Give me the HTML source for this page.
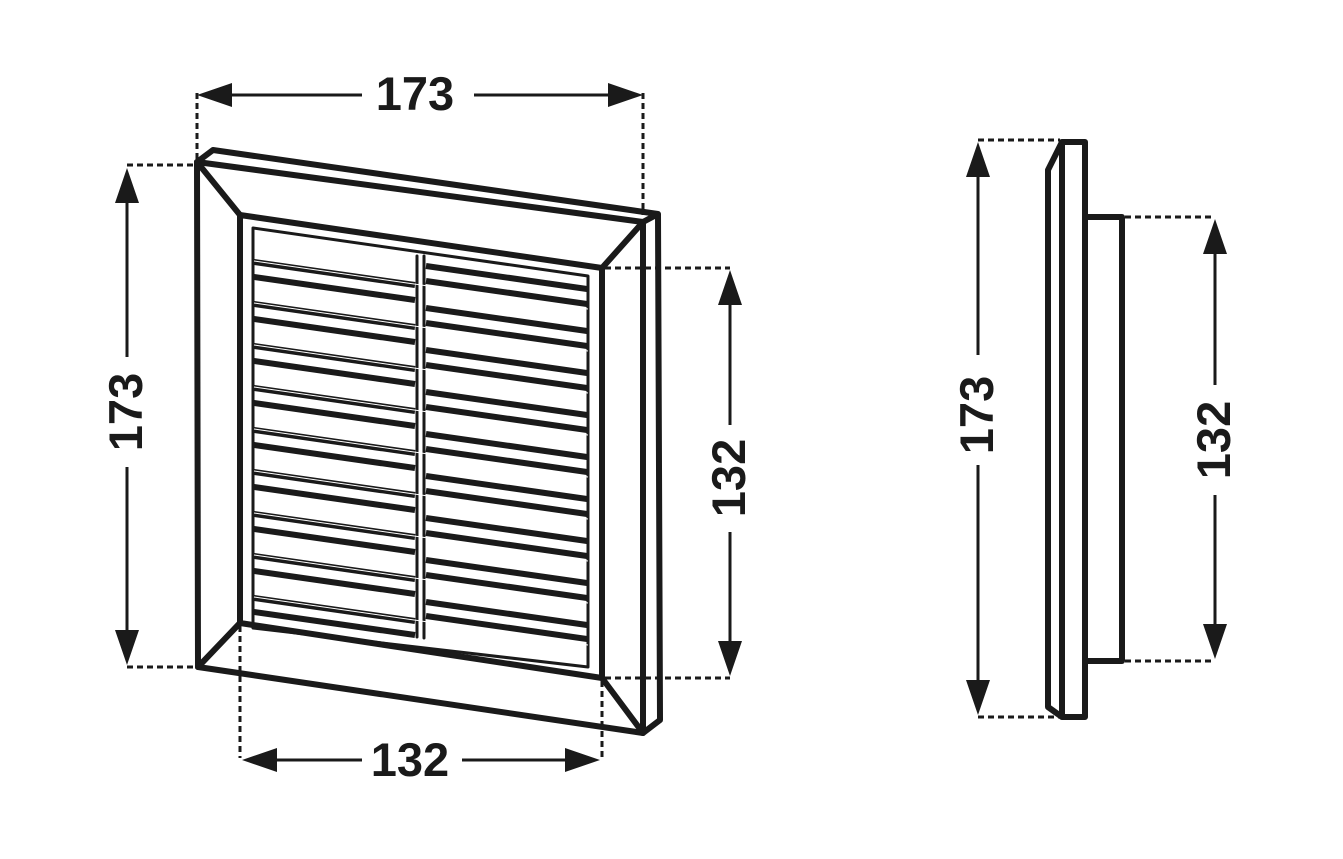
<!DOCTYPE html>
<html><head><meta charset="utf-8"><style>
html,body{margin:0;padding:0;background:#fff;}
svg{display:block;}
text{font-family:"Liberation Sans",sans-serif;font-weight:bold;font-size:47px;fill:#1a1a1a;}
</style></head><body>
<svg width="1343" height="859" viewBox="0 0 1343 859" xmlns="http://www.w3.org/2000/svg">
<g fill="none" stroke="#1a1a1a" stroke-linejoin="round" stroke-linecap="round">
 <!-- outer frame -->
 <path d="M197,162 L643,222 L643,733 L198,667 Z" stroke-width="6"/>
 <path d="M197,162 L213,150 L658,214 L643,222 M658,214 L660,720 L643,733" stroke-width="6"/>
 <!-- inner opening -->
 <path d="M240,215 L602,268 L602,678 L240,623 Z" stroke-width="6"/>
 <path d="M197,162 L240,215 M643,222 L602,268 M643,733 L602,678 M198,667 L240,623" stroke-width="6"/>
 <!-- louver frame -->
 <path d="M253,228 L588,276 L588,667 L253,628 Z" stroke-width="3"/>
 <!-- mullion -->
 <path d="M417,256 L417,637 M424,256 L424,638" stroke-width="3"/>
</g>
<g stroke="#1a1a1a" stroke-linecap="butt">
 <!-- louvers left half -->
 <g id="L">
  <path d="M254,262 L415,285" stroke-width="6"/>
  <path d="M254,277 L415,300" stroke-width="6"/>
  <path d="M254,304 L415,327" stroke-width="6"/>
  <path d="M254,319 L415,342" stroke-width="6"/>
  <path d="M254,346 L415,369" stroke-width="6"/>
  <path d="M254,361 L415,384" stroke-width="6"/>
  <path d="M254,388 L415,411" stroke-width="6"/>
  <path d="M254,403 L415,426" stroke-width="6"/>
  <path d="M254,430 L415,453" stroke-width="6"/>
  <path d="M254,445 L415,468" stroke-width="6"/>
  <path d="M254,472 L415,495" stroke-width="6"/>
  <path d="M254,487 L415,510" stroke-width="6"/>
  <path d="M254,514 L415,537" stroke-width="6"/>
  <path d="M254,529 L415,552" stroke-width="6"/>
  <path d="M254,556 L415,579" stroke-width="6"/>
  <path d="M254,571 L415,594" stroke-width="6"/>
  <path d="M254,598 L415,621" stroke-width="6"/>
  <path d="M254,612 L415,635" stroke-width="6"/>
 </g>
 <use href="#L" transform="translate(172,4)"/>
</g>
<g stroke="#fff" stroke-width="1">
 <path d="M254,261 L588,309 M254,303 L588,351 M254,345 L588,393 M254,387 L588,435 M254,429 L588,477 M254,471 L588,519 M254,513 L588,561 M254,555 L588,603 M254,597 L588,645"/>
</g>
<!-- side view -->
<g fill="none" stroke="#1a1a1a" stroke-width="6" stroke-linejoin="round">
 <path d="M1048,170 L1062,142 L1085,142 L1085,717 L1062,717 L1048,707 Z"/>
 <path d="M1062,142 L1062,717"/>
 <path d="M1085,217 L1122,217 L1122,661 L1085,661"/>
</g>
<!-- dotted extension lines -->
<g stroke="#1a1a1a" stroke-width="3" stroke-dasharray="6,4" fill="none">
 <path d="M197,93 L197,160 M643,93 L643,215"/>
 <path d="M127,165 L195,165 M127,667 L196,667"/>
 <path d="M605,268 L730,268 M605,678 L730,678"/>
 <path d="M240,626 L240,758 M602,681 L602,758"/>
 <path d="M978,140 L1060,140 M978,717 L1060,717"/>
 <path d="M1125,217 L1215,217 M1125,661 L1215,661"/>
</g>
<!-- dimension lines -->
<g stroke="#1a1a1a" stroke-width="3">
 <path d="M220,95 L362,95 M474,95 L620,95"/>
 <path d="M127,190 L127,357 M127,467 L127,645"/>
 <path d="M730,290 L730,425 M730,532 L730,655"/>
 <path d="M263,760 L362,760 M462,760 L580,760"/>
 <path d="M978,165 L978,355 M978,465 L978,692"/>
 <path d="M1215,240 L1215,385 M1215,495 L1215,638"/>
</g>
<g fill="#1a1a1a">
 <path d="M197,95 L232,83 L232,107 Z M643,95 L608,83 L608,107 Z"/>
 <path d="M127,168 L115,203 L139,203 Z M127,665 L115,630 L139,630 Z"/>
 <path d="M730,270 L718,305 L742,305 Z M730,676 L718,641 L742,641 Z"/>
 <path d="M242,760 L277,748 L277,772 Z M600,760 L565,748 L565,772 Z"/>
 <path d="M978,142 L966,177 L990,177 Z M978,715 L966,680 L990,680 Z"/>
 <path d="M1215,219 L1203,254 L1227,254 Z M1215,659 L1203,624 L1227,624 Z"/>
</g>
<text x="415" y="110" text-anchor="middle">173</text>
<text x="410" y="776" text-anchor="middle">132</text>
<text transform="translate(142,412) rotate(-90)" text-anchor="middle">173</text>
<text transform="translate(745,478) rotate(-90)" text-anchor="middle">132</text>
<text transform="translate(993,415) rotate(-90)" text-anchor="middle">173</text>
<text transform="translate(1230,440) rotate(-90)" text-anchor="middle">132</text>
</svg>
</body></html>
